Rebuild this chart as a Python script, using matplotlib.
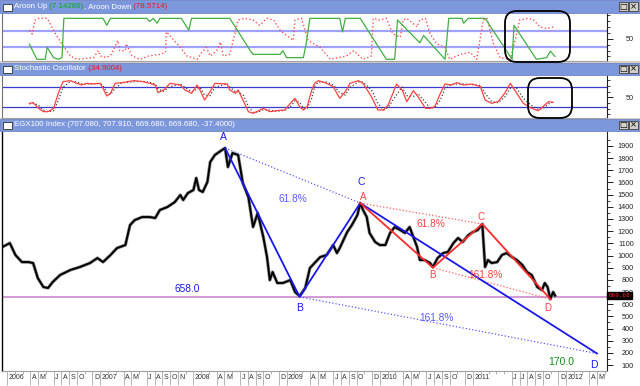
import matplotlib
matplotlib.use('Agg')
import matplotlib.pyplot as plt
import matplotlib.ticker as mticker
import matplotlib.transforms as mtransforms
from matplotlib.patches import Rectangle, FancyBboxPatch

plt.rcParams['font.family'] = ['Liberation Sans', 'DejaVu Sans']

# ---------------- data (dates as fractional years) ----------------
price_dates = [2005.95, 2005.99, 2006.03, 2006.09, 2006.16, 2006.23, 2006.28, 2006.33, 2006.39, 2006.44,
               2006.49, 2006.57, 2006.68, 2006.78, 2006.89, 2006.97, 2007.03, 2007.11, 2007.18, 2007.27,
               2007.30, 2007.32, 2007.37, 2007.45, 2007.53, 2007.59, 2007.64, 2007.72, 2007.80, 2007.86,
               2007.89, 2007.94, 2008.00, 2008.03, 2008.06, 2008.10, 2008.15, 2008.18, 2008.23, 2008.29,
               2008.34, 2008.37, 2008.42, 2008.48, 2008.53, 2008.59, 2008.64, 2008.69, 2008.75, 2008.79,
               2008.82, 2008.85, 2008.90, 2008.96, 2009.04, 2009.09, 2009.14, 2009.20, 2009.25, 2009.30,
               2009.36, 2009.43, 2009.50, 2009.54, 2009.57, 2009.61, 2009.65, 2009.70, 2009.76, 2009.79,
               2009.82, 2009.86, 2009.89, 2009.95, 2010.00, 2010.06, 2010.11, 2010.16, 2010.22, 2010.27,
               2010.32, 2010.36, 2010.40, 2010.43, 2010.48, 2010.54, 2010.57, 2010.62, 2010.68, 2010.73,
               2010.79, 2010.84, 2010.89, 2010.95, 2011.00, 2011.05, 2011.10, 2011.13, 2011.16, 2011.20,
               2011.26, 2011.31, 2011.36, 2011.42, 2011.47, 2011.53, 2011.58, 2011.63, 2011.69, 2011.74,
               2011.77, 2011.80, 2011.83, 2011.86, 2011.88]
price_close = [1070, 1086, 1102, 1004, 946, 946, 938, 815, 741, 733,
               782, 840, 881, 905, 938, 979, 946, 1004, 1061, 1086,
               1185, 1250, 1291, 1316, 1316, 1308, 1374, 1398, 1439, 1497,
               1456, 1513, 1538, 1637, 1538, 1522, 1604, 1768, 1826, 1858,
               1883, 1727, 1842, 1826, 1596, 1480, 1234, 1349, 1152, 987,
               798, 864, 774, 774, 798, 700, 667, 733, 897, 938,
               987, 1004, 1086, 1020, 1061, 1127, 1193, 1250, 1333, 1431,
               1374, 1316, 1185, 1111, 1086, 1086, 1185, 1234, 1209, 1185,
               1234, 1152, 1070, 963, 963, 938, 905, 979, 1020, 1029,
               1102, 1144, 1111, 1168, 1193, 1209, 1259, 905, 963, 938,
               946, 1004, 1020, 987, 963, 922, 864, 840, 741, 716,
               774, 741, 642, 700, 670]

aroon_up_dates = [2006.24, 2006.32, 2006.41, 2006.43, 2006.50, 2006.55, 2006.59, 2006.61, 2006.78, 2007.03,
                  2007.07, 2007.11, 2007.50, 2007.53, 2007.57, 2007.61, 2007.64, 2007.87, 2007.95, 2007.98,
                  2008.11, 2008.39, 2008.61, 2008.64, 2008.93, 2008.96, 2009.00, 2009.18, 2009.21, 2009.25,
                  2009.36, 2009.57, 2009.60, 2009.63, 2009.79, 2010.07, 2010.16, 2010.19, 2010.43, 2010.47,
                  2010.70, 2010.74, 2010.88, 2010.90, 2010.95, 2011.13, 2011.42, 2011.44, 2011.68, 2011.79,
                  2011.83, 2011.88]
aroon_up = [37, 0, 0, 29, 4, 0, 4, 100, 100, 100,
            83, 100, 100, 92, 100, 88, 100, 100, 71, 100,
            100, 100, 21, 12, 12, 21, 4, 4, 38, 100,
            100, 100, 67, 100, 100, 0, 0, 96, 40, 58,
            0, 100, 100, 88, 100, 100, 0, 83, 0, 4,
            20, 7]

aroon_down_dates = [2006.24, 2006.27, 2006.30, 2006.34, 2006.43, 2006.46, 2006.52, 2006.60, 2006.64, 2006.68,
                    2006.75, 2006.93, 2006.98, 2007.00, 2007.07, 2007.12, 2007.19, 2007.21, 2007.27, 2007.28,
                    2007.34, 2007.43, 2007.52, 2007.64, 2007.70, 2007.71, 2007.86, 2007.93, 2008.04, 2008.09,
                    2008.14, 2008.18, 2008.25, 2008.29, 2008.32, 2008.39, 2008.45, 2008.48, 2008.55, 2008.64,
                    2008.71, 2008.79, 2008.86, 2008.93, 2009.07, 2009.09, 2009.16, 2009.23,
                    2009.36, 2009.47, 2009.64, 2009.72, 2009.82, 2009.91, 2009.93, 2010.00, 2010.07, 2010.14,
                    2010.22, 2010.25, 2010.29, 2010.40, 2010.43, 2010.49, 2010.54, 2010.61, 2010.70, 2010.75,
                    2010.86, 2010.97, 2011.04, 2011.11, 2011.15, 2011.22, 2011.29, 2011.40, 2011.47, 2011.50,
                    2011.59, 2011.65, 2011.72, 2011.79, 2011.86]
aroon_down = [71, 62, 96, 100, 100, 88, 62, 33, 21, 8,
              0, 4, 21, 8, 4, 12, 46, 21, 21, 38,
              8, 0, 8, 12, 17, 67, 29, 8, 0, 17,
              29, 8, 21, 42, 8, 12, 67, 96, 100, 96,
              83, 100, 96, 71, 46, 96, 100, 46,
              29, 0, 8, 21, 0, 8, 100, 96, 100, 62,
              54, 96, 100, 79, 96, 100, 62, 38, 29, 0,
              12, 17, 0, 96, 100, 38, 4, 0, 62, 96,
              100, 96, 79, 75, 79]

stoch_dates = [2006.24, 2006.28, 2006.34, 2006.39, 2006.44, 2006.50, 2006.55, 2006.60, 2006.68, 2006.75,
               2006.80, 2006.86, 2006.91, 2007.00, 2007.03, 2007.07, 2007.11, 2007.16, 2007.23, 2007.36,
               2007.46, 2007.53, 2007.59, 2007.62, 2007.68, 2007.75, 2007.86, 2007.91, 2007.98, 2008.04,
               2008.07, 2008.12, 2008.18, 2008.23, 2008.36, 2008.39, 2008.45, 2008.48, 2008.54, 2008.59,
               2008.64, 2008.70, 2008.75, 2008.82, 2008.89, 2008.98, 2009.04, 2009.09, 2009.14, 2009.18,
               2009.22, 2009.27, 2009.30, 2009.34,
               2009.43, 2009.50, 2009.57, 2009.63, 2009.68, 2009.77, 2009.82, 2009.91, 2009.98, 2010.04,
               2010.09, 2010.18, 2010.24, 2010.29, 2010.36, 2010.41, 2010.49, 2010.54, 2010.59, 2010.65,
               2010.70, 2010.77, 2010.83, 2010.90, 2010.99, 2011.08, 2011.13, 2011.20, 2011.27, 2011.34,
               2011.40, 2011.47, 2011.54, 2011.63, 2011.70, 2011.75, 2011.81, 2011.86]
stoch_k = [32, 34, 17, 7, 7, 17, 62, 97, 100, 92,
           87, 92, 90, 92, 77, 54, 62, 92, 94, 100,
           97, 92, 87, 64, 72, 92, 87, 72, 62, 87,
           72, 42, 67, 92, 90, 72, 62, 72, 37, 7,
           2, 10, 17, 7, 10, 12, 32, 47, 22, 12,
           22, 72, 92, 100,
           92, 82, 47, 67, 92, 100, 92, 52, 12, 12,
           27, 90, 72, 37, 70, 52, 17, 17, 22, 62,
           90, 87, 94, 87, 90, 82, 42, 32, 37, 62,
           92, 62, 32, 17, 10, 22, 37, 35]
stoch_d = [30, 33, 26, 12, 7, 10, 40, 80, 98, 96,
           90, 90, 91, 91, 85, 65, 58, 77, 93, 97,
           98, 95, 90, 75, 68, 82, 90, 80, 67, 75,
           80, 57, 55, 80, 91, 81, 67, 67, 55, 22,
           5, 6, 13, 12, 8, 11, 22, 40, 35, 17,
           17, 47, 82, 96,
           96, 87, 64, 57, 80, 96, 96, 72, 32, 12,
           20, 58, 81, 55, 53, 61, 35, 17, 20, 42,
           76, 89, 90, 90, 88, 86, 62, 37, 34, 50,
           77, 77, 47, 25, 14, 16, 30, 36]

# harmonic pattern points A, B, C, D
blue_dates = [2008.34, 2009.14, 2009.79, 2012.33]
blue_vals = [1883, 660, 1431, 195]
red_dates = [2009.79, 2010.57, 2011.10, 2011.83]
red_vals = [1431, 900, 1259, 642]
support = 658.0
target = 170.0
last_price = 669.68

tick_months = ['2006-01', '2006-04', '2006-05', '2006-07', '2006-08', '2006-09', '2006-10', '2006-12',
               '2007-01', '2007-04', '2007-05', '2007-07', '2007-08', '2007-09', '2007-10', '2007-11',
               '2008-01', '2008-04', '2008-05', '2008-07', '2008-08', '2008-09', '2008-10', '2008-12',
               '2009-01', '2009-04', '2009-05', '2009-07', '2009-08', '2009-09', '2009-10', '2009-12',
               '2010-01', '2010-04', '2010-05', '2010-07', '2010-08', '2010-09', '2010-10', '2010-12',
               '2011-01', '2011-06', '2011-07', '2011-08', '2011-09', '2011-10', '2011-12',
               '2012-01', '2012-04', '2012-05']

# ---------------- layout (pixel based) ----------------
W, H = 640, 386
X0, X1 = 2, 607
XLIM = (2005.946, 2012.438)

fig = plt.figure(figsize=(W / 100, H / 100), dpi=100, facecolor='#d4d0c8')
renderer = fig.canvas.get_renderer()


def frac(x0, y0, x1, y1):
    return [x0 / W, 1 - y1 / H, (x1 - x0) / W, (y1 - y0) / H]


def box(x0, y0, x1, y1, z=-5, **kw):
    fig.add_artist(Rectangle((x0 / W, 1 - y1 / H), (x1 - x0) / W, (y1 - y0) / H,
                             transform=fig.transFigure, zorder=z, **kw))


def header(y0, y1, pieces):
    box(0, y0, W, y1, z=1, facecolor='#7d97dd', edgecolor='#6f86c9', lw=0.6)
    box(3, y0 + 3.5, 12, y1 - 2.5, z=2, facecolor='white', edgecolor='#303030', lw=0.6)
    x = 14
    yc = 1 - (y0 + y1) / 2 / H
    for s, c in pieces:
        t = fig.text(x / W, yc, s, color=c, fontsize=5.7, ha='left', va='center', zorder=3)
        x += t.get_window_extent(renderer=renderer).width
    for bx, glyph in ((619, '□'), (629, '×')):
        box(bx, y0 + 2, bx + 9, y1 - 2, z=2, facecolor='#d4d0c8', edgecolor='#404040', lw=0.6)
        fig.text((bx + 4.5) / W, yc, glyph, fontsize=6, ha='center', va='center',
                 color='black', zorder=3, family='DejaVu Sans')


def right_axis(ax, major, minor, labels):
    ax.yaxis.tick_right()
    ax.set_yticks(major)
    ax.set_yticklabels(labels)
    ax.set_yticks(minor, minor=True)
    ax.tick_params(axis='y', which='major', length=4, width=0.7, color='#202020',
                   pad=15.4, labelsize=5.2, labelcolor='#202020')
    ax.tick_params(axis='y', which='minor', length=2.2, width=0.6, color='#202020')
    ax.set_xlim(*XLIM)
    ax.spines['top'].set_visible(False)
    ax.spines['left'].set_color('#707070')
    ax.spines['bottom'].set_color('#a0a0a0')
    ax.spines['right'].set_color('#202020')
    ax.spines['right'].set_linewidth(0.8)


# ---------------- Aroon panel ----------------
header(0, 13, [('Aroon Up', 'white'), (' (7.14286)', '#00b000'),
               (', Aroon Down', 'white'), (' (78.5714)', '#ff1010')])
box(0, 13, W, 61, facecolor='white', edgecolor='none')
ax1 = fig.add_axes(frac(X0, 13, X1, 61))
ax1.set_ylim(-4.2, 113)
ax1.axhline(70, color='#a0a0ff', lw=1.6, zorder=1)
ax1.axhline(30, color='#a0a0ff', lw=1.6, zorder=1)
ax1.plot(aroon_down_dates, aroon_down, ls=':', color='#ff5050', lw=1.0, zorder=2)
ax1.plot(aroon_up_dates, aroon_up, color='#40b040', lw=0.9, zorder=3)
right_axis(ax1, [50], [7, 21, 36, 64, 79, 93, 107], ['50'])
ax1.set_xticks([])

# ---------------- Stochastic panel ----------------
header(63, 75, [('Stochastic Oscillator', 'white'), (' (34.9004)', '#ff1010')])
box(0, 75, W, 118, facecolor='white', edgecolor='none')
ax2 = fig.add_axes(frac(X0, 75, X1, 118))
ax2.set_ylim(-12, 117)
ax2.axhline(80, color='#3a3ad0', lw=0.9, zorder=1)
ax2.axhline(20, color='#3a3ad0', lw=0.9, zorder=1)
ax2.plot(stoch_dates, stoch_d, ls=':', color='#404040', lw=0.9, zorder=2)
ax2.plot(stoch_dates, stoch_k, color='#ff4040', lw=0.9, zorder=3)
right_axis(ax2, [50], [-1, 16, 33, 67, 84, 101], ['50'])
ax2.set_xticks([])

# ---------------- Main price panel ----------------
header(119, 131, [('EGX100 Index (707.080, 707.910, 669.680, 669.680, -37.4000)', 'white')])
box(0, 131, W, H, facecolor='white', edgecolor='none')
ax = fig.add_axes(frac(X0, 131, X1, 371))
ax.set_ylim(51, 2023)
right_axis(ax, list(range(100, 2000, 100)), list(range(150, 2000, 100)),
           [str(v) for v in range(100, 2000, 100)])
ax.spines['left'].set_color('black')
ax.spines['left'].set_linewidth(1.0)

ax.axhline(support, color='#cc88cc', lw=1.2, zorder=1)
ax.plot(price_dates, price_close, color='#909090', lw=2.4, zorder=2)
ax.plot(price_dates, price_close, color='black', lw=1.4, zorder=2)

blue = '#1818ee'
lblue = '#5a5aff'
red = '#ff2a2a'
ax.plot([blue_dates[0], blue_dates[2]], [blue_vals[0], blue_vals[2]], ls=':', color=lblue, lw=0.9, zorder=3)
ax.plot([blue_dates[1], blue_dates[3]], [blue_vals[1], blue_vals[3]], ls=':', color=lblue, lw=0.9, zorder=3)
ax.plot(blue_dates, blue_vals, color=blue, lw=1.3, zorder=4)
ax.plot([red_dates[0], red_dates[2]], [red_vals[0], red_vals[2]], ls=':', color='#ff6060', lw=0.9, zorder=3)
ax.plot([red_dates[1], red_dates[3]], [red_vals[1], red_vals[3]], ls=':', color='#ff6060', lw=0.9, zorder=3)
ax.plot(red_dates, red_vals, color=red, lw=1.3, zorder=4)

for name, d, v, off in zip('ABCD', blue_dates, blue_vals, [(-1, 8), (0, -8), (1, 15), (-2, -8)]):
    ax.annotate(name, (d, v), xytext=off, textcoords='offset points', color=blue,
                fontsize=7.5, ha='center', va='center', zorder=6, annotation_clip=False)
for name, d, v, off in zip('ABCD', red_dates, red_vals, [(2, 4.5), (0, -5.5), (-1, 5), (-2, -6.5)]):
    ax.annotate(name, (d, v), xytext=off, textcoords='offset points', color='#ff4040',
                fontsize=7, ha='center', va='center', zorder=6)

ax.text(2009.07, 1464, '61.8%', color=lblue, fontsize=7.3, ha='center', va='center', zorder=6)
ax.text(2010.61, 486, '161.8%', color=lblue, fontsize=7.3, ha='center', va='center', zorder=6)
ax.text(2007.93, 724, '%.1f' % support, color=blue, fontsize=7.3, ha='center', va='center', zorder=6)
ax.text(2010.55, 1262, '61.8%', color='#ff4040', fontsize=7.3, ha='center', va='center', zorder=6)
ax.text(2011.13, 840, '161.8%', color='#ff4040', fontsize=7.3, ha='center', va='center', zorder=6)
ax.text(2011.95, 128, '%.1f' % target, color='#1a8c1a', fontsize=7.5, ha='center', va='center', zorder=6)

ax.annotate('%.2f' % last_price, xy=(1.0, last_price), xycoords=('axes fraction', 'data'),
            xytext=(1.2, 0), textcoords='offset points', fontsize=4.3, color='#ff2020',
            family='DejaVu Sans Mono', ha='left', va='center', annotation_clip=False, zorder=10,
            bbox=dict(boxstyle='square,pad=0.2', fc='black', ec='black'))

# x axis: month separators with labels to their right
tick_pos = [int(m[:4]) + (int(m[5:]) - 1) / 12 for m in tick_months]
tick_txt = [m[:4] if m.endswith('-01') else 'JFMAMJJASOND'[int(m[5:]) - 1] for m in tick_months]
ax.set_xticks(tick_pos)
ax.set_xticklabels(tick_txt)
ax.set_xticks([y + k / 12 for y in range(2006, 2013) for k in range(12)], minor=True)
ax.set_xlim(*XLIM)
ax.tick_params(axis='x', which='major', length=10, width=0.6, color='#a8a8a8',
               pad=-8, labelsize=5, labelcolor='#303030')
ax.tick_params(axis='x', which='minor', length=2.2, width=0.5, color='#909090')

# rounded highlight boxes (pixel coordinates)
for x0, y0, x1, y1 in [(505, 11, 570, 62), (528, 78, 572, 118)]:
    fig.add_artist(FancyBboxPatch((x0, H - y1), x1 - x0, y1 - y0,
                                  boxstyle='round,pad=0,rounding_size=12',
                                  transform=mtransforms.IdentityTransform(),
                                  fill=False, ec='black', lw=1.3, zorder=20))

for a in (ax1, ax2, ax):
    for t in a.get_yticklabels():
        t.set_horizontalalignment('right')
shift = mtransforms.ScaledTranslation(0.015, 0, fig.dpi_scale_trans)
for t in ax.get_xticklabels():
    t.set_horizontalalignment('left')
    t.set_transform(t.get_transform() + shift)

fig.savefig('out.png', dpi=100, facecolor=fig.get_facecolor())
